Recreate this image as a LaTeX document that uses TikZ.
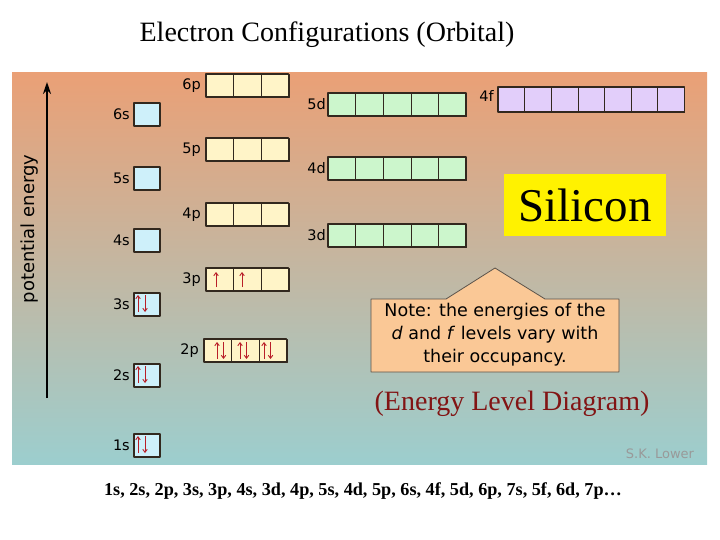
\documentclass[tikz,border=0pt]{standalone}
\usepackage{fontspec}
\setmainfont{Liberation Serif}
\setsansfont{DejaVu Sans}
\usetikzlibrary{arrows.meta}
\definecolor{bgtop}{RGB}{234,160,118}
\definecolor{bgmid}{RGB}{200,186,160}
\definecolor{bgbot}{RGB}{156,206,206}
\definecolor{sfill}{RGB}{206,240,250}
\definecolor{pfill}{RGB}{255,244,200}
\definecolor{dfill}{RGB}{204,246,204}
\definecolor{ffill}{RGB}{226,206,250}
\definecolor{rim}{RGB}{50,40,30}
\definecolor{spinred}{RGB}{185,30,40}
\definecolor{notefill}{RGB}{250,200,150}
\definecolor{diagred}{RGB}{130,20,20}
\begin{document}
\begin{tikzpicture}[x=1pt, y=-1pt, >={Straight Barb[length=3pt,width=4.5pt]}, line join=round]
	\tikzset{
		cell/.style={draw=rim, line width=.6pt},
		rimbox/.style={draw=rim, line width=1.1pt},
		lvl/.style={font=\fontsize{14.5}{16}\selectfont\sffamily, anchor=east, inner sep=1pt},
		spin/.style={draw=spinred, line width=.9pt, ->}
	}
	\useasboundingbox (0,0) rectangle (720,540);
	\shade[top color=bgtop, middle color=bgmid, bottom color=bgbot] (12,73) rectangle (707,464);
	\node[font=\fontsize{28}{30}\selectfont] (title) at (327,35) {Electron Configurations (Orbital)};
	% energy axis
	\coordinate (axbot) at (47,398);
	\coordinate (axtop) at (47,82);
	\draw[line width=2pt, -{Stealth[length=12pt,width=8pt]}] (axbot) -- (axtop);
	\node[rotate=90, font=\fontsize{18}{20}\selectfont\sffamily] (axis) at (30,229) {potential energy};
	% s levels
	\foreach \n/\y in {6/103,5/167,4/229,3/293,2/364,1/434}{
		\draw[rimbox, fill=sfill] (134,\y) rectangle +(26,23);
		\node[lvl] (s\n) at (131,\y+11.5) {\n s};
	}
	% p levels
	\begin{scope}
		\clip (12,73) rectangle (707,464);
		\foreach \n/\y/\x in {6/74/206,5/138/206,4/203/206,3/268/206,2/339/204}{
			\foreach \i in {0,1,2}
				\draw[cell, fill=pfill] (\x+27.6*\i,\y) rectangle +(27.6,23);
			\draw[rimbox] (\x,\y) rectangle +(82.8,23);
			\node[lvl] (p\n) at (\x-4,\y+11.5) {\n p};
		}
	\end{scope}
	% d levels
	\foreach \n/\y in {5/93,4/157,3/224}{
		\foreach \i in {0,...,4}
			\draw[cell, fill=dfill] (328+27.6*\i,\y) rectangle +(27.6,23);
		\draw[rimbox] (328,\y) rectangle +(138,23);
		\node[lvl] (d\n) at (327,\y+11.5) {\n d};
	}
	% f level
	\foreach \i in {0,...,6}
		\draw[cell, fill=ffill] (498+26.6*\i,87) rectangle +(26.6,25);
	\draw[rimbox] (498,87) rectangle +(186.2,25);
	\node[lvl] (f4) at (495,96) {4f};
	% electrons
	\foreach \y in {293,364,434}{
		\draw[spin] (138,\y+19) -- (138,\y+2);
		\draw[spin] (145,\y+2) -- (145,\y+19);
	}
	\foreach \x in {217,240,264}{
		\draw[spin] (\x,359) -- (\x,342);
		\draw[spin] (\x+6.5,342) -- (\x+6.5,359);
	}
	\foreach \x in {216,242}
		\draw[spin] (\x,287) -- (\x,272);
	\node[fill=yellow, minimum width=162, minimum height=62, inner sep=0pt, font=\fontsize{47}{50}\selectfont] (elem) at (585,205) {Silicon};
	% note
	\draw[draw=rim!80, line width=.8pt, fill=notefill] (371,299) -- (446,299) -- (495,268) -- (545,299) -- (619,299) -- (619,372) -- (371,372) -- cycle;
	\node[align=center, font=\fontsize{17.5}{23}\selectfont\sffamily] (note) at (495,335) {Note: the energies of the\\ \textit{d} and \textit{f} levels vary with\\ their occupancy.};
	\node[text=diagred, font=\fontsize{28}{30}\selectfont] (kind) at (512,404) {(Energy Level Diagram)};
	\node[text=black!40, font=\fontsize{13}{15}\selectfont\sffamily] (credit) at (660,454) {S.K. Lower};
	\node[font=\fontsize{18.2}{20}\selectfont\bfseries] (order) at (363,491) {1s, 2s, 2p, 3s, 3p, 4s, 3d, 4p, 5s, 4d, 5p, 6s, 4f, 5d, 6p, 7s, 5f, 6d, 7p…};
\end{tikzpicture}
\end{document}
